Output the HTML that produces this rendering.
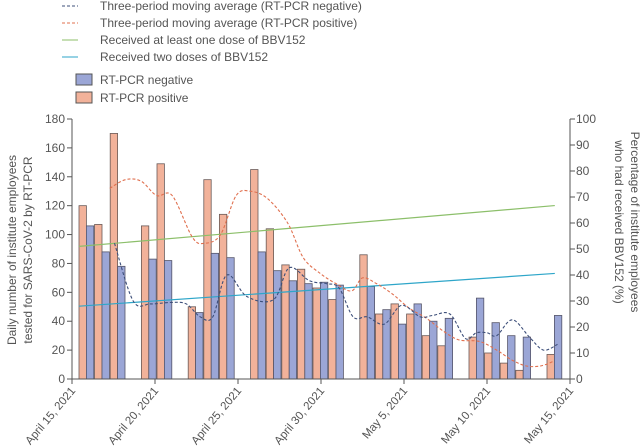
<!DOCTYPE html>
<html><head><meta charset="utf-8"><style>
body{margin:0;background:#fff;}
svg{display:block;font-family:"Liberation Sans",sans-serif;}
</style></head><body>
<svg id="chart" width="643" height="447" viewBox="0 0 643 447" xmlns="http://www.w3.org/2000/svg">
<g id="legend" font-size="12" fill="#555">
  <g><line x1="62" y1="6" x2="78" y2="6" stroke="#3d4f7a" stroke-dasharray="3,2"/><text x="100" y="10">Three-period moving average (RT-PCR negative)</text></g>
  <g><line x1="62" y1="23" x2="78" y2="23" stroke="#e0704f" stroke-dasharray="3,2"/><text x="100" y="27">Three-period moving average (RT-PCR positive)</text></g>
  <g><line x1="62" y1="40" x2="78" y2="40" stroke="#8cbf6a"/><text x="100" y="44">Received at least one dose of BBV152</text></g>
  <g><line x1="62" y1="57" x2="78" y2="57" stroke="#2ea6c9"/><text x="100" y="61">Received two doses of BBV152</text></g>
  <g><rect x="76" y="74" width="16" height="11" fill="#9ba6d6" stroke="#555"/><text x="100" y="84">RT-PCR negative</text></g>
  <g><rect x="76" y="92" width="16" height="11" fill="#f2b29a" stroke="#555"/><text x="100" y="102">RT-PCR positive</text></g>
</g>
<g id="bars"></g>
<g id="lines"></g>
<g id="axes" font-size="12" fill="#555"></g>
<text font-size="12" fill="#555" text-anchor="middle" transform="translate(16,250) rotate(-90)">Daily number of institute employees</text>
<text font-size="12" fill="#555" text-anchor="middle" transform="translate(32,250) rotate(-90)">tested for SARS-CoV-2 by RT-PCR</text>
<text font-size="12" fill="#555" text-anchor="middle" transform="translate(631,222) rotate(90)">Percentage of institute employees</text>
<text font-size="12" fill="#555" text-anchor="middle" transform="translate(615,222) rotate(90)">who had received BBV152 (%)</text>
</svg>
<script>
const days = [0,1,2,4,5,7,8,9,11,12,13,14,15,16,18,19,20,21,22,23,25,26,27,28,30];
const negative = [106,88,78,83,82,46,87,84,88,75,68,66,67,65,64,48,38,52,40,42,56,39,30,29,44];
const positive = [120,107,170,106,149,50,138,114,145,104,79,76,63,55,86,45,52,45,30,23,29,18,11,6,17];
const maPosDays = [1.5,2.5,3.5,4.5,5.5,6.8,7.6,8.6,9.6,10.5,11.6,12.9,13.9,15,16,17,17.7,18.6,19.6,20.7,21.8,22.9,23.9,25.2,26.3,27.3,28.2,29.1,29.9];
const maPos = [132,138,137,127,127,98,94,100,127,130,125,108,84,73,66,61,70,66,59,49,42,33,27,26,20,13,9,9,12];
const maNegDays = [1.8,3,4.1,5.4,6.4,7.3,8.1,9,10.3,12,13,14.3,15.4,16.2,17.1,18,19.1,20.2,21.4,22.2,23.3,24.3,25,25.7,26.3,27.3,28.4,29.3,30.2];
const maNeg = [94,54,52,53,52,43,43,72,57,55,77,68,66,63,43,43,38,51,43,44,45,28,32,32,30,41,29,20,24];
const doseDays = [0,30.5];
const oneDose = [51,66.7];
const twoDose = [28,40.6];
const leftTicks = [0,20,40,60,80,100,120,140,160,180];
const rightTicks = [0,10,20,30,40,50,60,70,80,90,100];
const xTickLabels = ["April 15, 2021","April 20, 2021","April 25, 2021","April 30, 2021","May 5, 2021","May 10, 2021","May 15, 2021"];

const NS="http://www.w3.org/2000/svg";
const X0=72, X1=570, YB=379, YT=119;
const yL = v => YB - v/180*(YB-YT);
const yR = v => YB - v/100*(YB-YT);
const xDay = d => 79 + d*15.6;
const bw = 7.4;
function mk(tag, attrs, parent){const e=document.createElementNS(NS,tag);for(const k in attrs)e.setAttribute(k,attrs[k]);parent.appendChild(e);return e;}
const bars=document.getElementById('bars'), lines=document.getElementById('lines'), axes=document.getElementById('axes');
days.forEach((d,i)=>{
  const r1=mk('rect',{x:xDay(d),y:yL(positive[i]),width:bw,height:YB-yL(positive[i]),fill:'#f2b29a',stroke:'#6a5a58','stroke-width':0.8},bars);
  
  
  const r2=mk('rect',{x:xDay(d)+bw,y:yL(negative[i]),width:bw,height:YB-yL(negative[i]),fill:'#9ba6d6',stroke:'#55556a','stroke-width':0.8},bars);
  
  
});
function smooth(pts){
  let s=`M${pts[0][0]},${pts[0][1]}`;
  for(let i=0;i<pts.length-1;i++){
    const p0=pts[i-1]||pts[i],p1=pts[i],p2=pts[i+1],p3=pts[i+2]||p2;
    s+=` C${p1[0]+(p2[0]-p0[0])/6},${p1[1]+(p2[1]-p0[1])/6} ${p2[0]-(p3[0]-p1[0])/6},${p2[1]-(p3[1]-p1[1])/6} ${p2[0]},${p2[1]}`;
  }
  return s;
}
const g1=mk('line',{x1:xDay(doseDays[0]),y1:yR(oneDose[0]),x2:xDay(doseDays[1]),y2:yR(oneDose[1]),stroke:'#8cbf6a','stroke-width':1.2},lines);


const g2=mk('line',{x1:xDay(doseDays[0]),y1:yR(twoDose[0]),x2:xDay(doseDays[1]),y2:yR(twoDose[1]),stroke:'#2ea6c9','stroke-width':1.2},lines);


const p1=mk('path',{d:smooth(maPosDays.map((d,i)=>[xDay(d)+bw,yL(maPos[i])])),fill:'none',stroke:'#e0704f','stroke-width':1.1,'stroke-dasharray':'3,2'},lines);


const p2=mk('path',{d:smooth(maNegDays.map((d,i)=>[xDay(d)+bw,yL(maNeg[i])])),fill:'none',stroke:'#3d4f7a','stroke-width':1.1,'stroke-dasharray':'3,2'},lines);


const la=mk('line',{x1:X0,y1:YT,x2:X0,y2:YB,stroke:'#555'},axes);


const ra=mk('line',{x1:X1,y1:YT,x2:X1,y2:YB,stroke:'#555'},axes);


const xa=mk('line',{x1:X0,y1:YB,x2:X1,y2:YB,stroke:'#555'},axes);


leftTicks.forEach(v=>{
  mk('line',{x1:X0-5,y1:yL(v),x2:X0,y2:yL(v),stroke:'#555'},axes);
  const t=mk('text',{x:X0-7,y:yL(v)+4,'text-anchor':'end'},axes);t.textContent=v;
  
  
});
rightTicks.forEach(v=>{
  mk('line',{x1:X1,y1:yR(v),x2:X1+5,y2:yR(v),stroke:'#555'},axes);
  const t=mk('text',{x:X1+6,y:yR(v)+4},axes);t.textContent=v;
  
  
});
xTickLabels.forEach((s,i)=>{
  const x=X0+i*(X1-X0)/(xTickLabels.length-1);
  mk('line',{x1:x,y1:YB,x2:x,y2:YB+5,stroke:'#555'},axes);
  const t=mk('text',{'text-anchor':'end','font-size':'11.5',transform:`translate(${x+4},${YB+12}) rotate(-50)`},axes);t.textContent=s;
  
  
});
</script>
</body></html>
